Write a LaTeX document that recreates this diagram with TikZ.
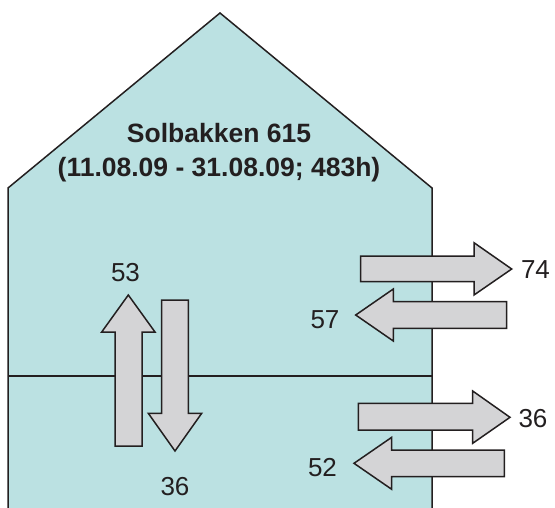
\documentclass[tikz,border=0pt]{standalone}
\usepackage{fontspec}
\setmainfont{Liberation Sans}
\definecolor{housefill}{RGB}{187,225,226}
\definecolor{arrowfill}{RGB}{212,212,214}
\definecolor{ink}{RGB}{35,31,32}
\tikzset{
  wall/.style={draw=ink, line width=1.5pt, line join=miter},
  flow/.style={draw=ink, fill=arrowfill, line width=1.5pt, line join=miter},
  num/.style={anchor=base, text=ink, font=\fontsize{26}{30}\selectfont, inner sep=0pt},
  title/.style={anchor=base, text=ink, font=\fontsize{26.5}{32}\selectfont\bfseries, inner sep=0pt}
}
\begin{document}
\begin{tikzpicture}[x=1pt,y=-1pt]
\useasboundingbox (0,0) rectangle (555,507);
% house
\fill[housefill] (8,508) -- (8,188) -- (220,13) -- (432,188) -- (432,508) -- cycle;
\draw[wall] (8,508) -- (8,188) -- (220,13) -- (432,188) -- (432,508);
\draw[wall] (8,376) -- (432,376);
% title
\node[title] (t1) at (219,142) {Solbakken 615};
\node[title] (t2) at (219,176) {(11.08.09 - 31.08.09; 483h)};
% vertical arrows
\draw[flow] (115,446) -- (115,332) -- (101.7,332) -- (128.3,295) -- (155,332) -- (142,332) -- (142,446) -- cycle;
\draw[flow] (161.7,300) -- (188.3,300) -- (188.3,413.3) -- (201.7,413.3) -- (175,451) -- (148.3,413.3) -- (161.7,413.3) -- cycle;
% horizontal arrows, upper floor
\draw[flow] (360.7,256) -- (474,256) -- (474,242.7) -- (511.7,269) -- (474,295) -- (474,281.7) -- (360.7,281.7) -- cycle;
\draw[flow] (506.7,301.7) -- (393.3,301.7) -- (393.3,289) -- (355.7,315) -- (393.3,341) -- (393.3,328.3) -- (506.7,328.3) -- cycle;
% horizontal arrows, lower floor
\draw[flow] (358.3,403.3) -- (472.7,403.3) -- (472.7,391) -- (510,417.3) -- (472.7,443.3) -- (472.7,430) -- (358.3,430) -- cycle;
\draw[flow] (504.3,450) -- (391.7,450) -- (391.7,437.3) -- (354,463.3) -- (391.7,489.3) -- (391.7,476.7) -- (504.3,476.7) -- cycle;
% labels
\node[num] (n53) at (125.5,281.7) {53};
\node[num] (n36a) at (175,495) {36};
\node[num] (n74) at (535.5,278) {74};
\node[num] (n57) at (325,328.3) {57};
\node[num] (n36b) at (533,427) {36};
\node[num] (n52) at (322.5,476.7) {52};
\end{tikzpicture}
\end{document}
